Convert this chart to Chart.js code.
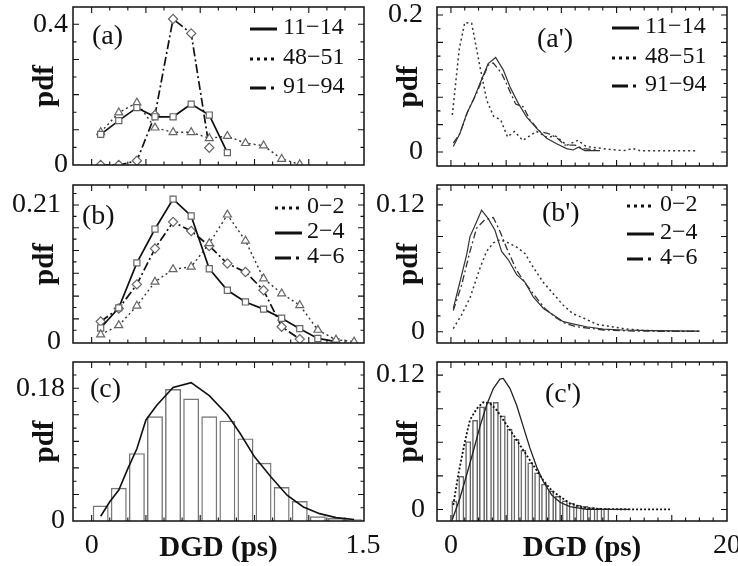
<!DOCTYPE html>
<html>
<head>
<meta charset="utf-8">
<script src="https://cdn.jsdelivr.net/npm/chart.js@4.4.0/dist/chart.umd.min.js"></script>
<style>
  body { margin: 0; background: #fff; }
  #wrap { position: relative; width: 738px; height: 566px; }
  #wrap canvas { position: absolute; left: 0; top: 0; }
</style>
</head>
<body>
<div id="wrap">
  <canvas id="pa" width="738" height="566"></canvas>
  <canvas id="pap" width="738" height="566"></canvas>
  <canvas id="pb" width="738" height="566"></canvas>
  <canvas id="pbp" width="738" height="566"></canvas>
  <canvas id="pc" width="738" height="566"></canvas>
  <canvas id="pcp" width="738" height="566"></canvas>
</div>
<script>
const SERIF = '"Liberation Serif", "Times New Roman", serif';
const INK = '#111';

// ---- data ----
const legendA = ['11−14', '48−51', '91−94'];
const legendB = ['0−2', '2−4', '4−6'];

// (a) binned, centres every 0.1 ps
const binsA = [0.05, 0.15, 0.25, 0.35, 0.45, 0.55, 0.65, 0.75, 0.85, 0.95, 1.05, 1.15, 1.25, 1.35, 1.45];
const a1114 = [0.087, 0.126, 0.163, 0.137, 0.137, 0.173, 0.142, 0.035];
const a4851 = [0.093, 0.149, 0.177, 0.106, 0.093, 0.093, 0.076, 0.082, 0.062, 0.055, 0.017, 0.002];
const a9194 = [0, 0, 0.012, 0.142, 0.415, 0.374, 0.049];

// (a')
const ap1114X = [0.17, 0.65, 1.14, 1.62, 2.1, 2.7, 3.24, 3.79, 4.28, 4.88, 5.49, 6.2, 6.93, 7.66, 8.38, 8.86, 9.23, 9.7, 10.8];
const ap1114Y = [0.008, 0.027, 0.056, 0.076, 0.1, 0.129, 0.138, 0.12, 0.095, 0.071, 0.051, 0.035, 0.02, 0.012, 0.005, 0.003, 0.007, 0.002, 0.002];
const ap4851X = [0.1, 0.6, 1.0, 1.5, 2.1, 2.6, 3.1, 3.6, 4.1, 4.6, 5.2, 6.2, 6.9, 7.6, 8.4, 9.2, 9.8, 11.0, 12.5, 13.2, 13.7, 15.5, 17.8];
const ap4851Y = [0.054, 0.15, 0.189, 0.188, 0.125, 0.075, 0.052, 0.047, 0.022, 0.03, 0.017, 0.03, 0.022, 0.023, 0.01, 0.017, 0.008, 0.005, 0.002, 0.005, 0.002, 0.002, 0.002];
const ap9194X = [0.17, 0.65, 1.25, 1.86, 2.7, 3.07, 3.67, 4.15, 4.69, 5.24, 5.72, 6.45, 7.05, 7.66, 8.26, 8.99, 9.6, 10.5];
const ap9194Y = [0.013, 0.027, 0.061, 0.086, 0.127, 0.13, 0.115, 0.094, 0.07, 0.066, 0.047, 0.03, 0.027, 0.021, 0.01, 0.01, 0.005, 0.003];

// (b) binned
const b02 = [0.011, 0.025, 0.055, 0.092, 0.111, 0.115, 0.151, 0.195, 0.155, 0.097, 0.074, 0.056, 0.018, 0.003, 0];
const b24 = [0.021, 0.052, 0.121, 0.173, 0.219, 0.193, 0.112, 0.079, 0.061, 0.05, 0.036, 0.02, 0.005, 0];
const b46 = [0.031, 0.051, 0.088, 0.143, 0.184, 0.17, 0.147, 0.12, 0.107, 0.079, 0.023, 0.004];

// (b')
const bp02X = [0.17, 0.77, 1.38, 2.1, 2.58, 3.07, 3.55, 4.16, 4.76, 5.36, 5.96, 6.67, 7.4, 8.14, 8.84, 9.59, 10.56, 11.5, 12.7, 14.0, 16.0, 18.0];
const bp02Y = [0.003, 0.016, 0.032, 0.06, 0.076, 0.084, 0.087, 0.084, 0.08, 0.074, 0.061, 0.047, 0.036, 0.025, 0.017, 0.013, 0.007, 0.005, 0.0025, 0.0012, 0.0006, 0.0003];
const bp24X = [0.17, 0.65, 1.14, 1.38, 1.86, 2.22, 2.7, 3.19, 3.67, 4.16, 4.76, 5.36, 5.96, 6.7, 7.4, 8.14, 8.99, 9.83, 11.04, 12.5, 14.5, 18.0];
const bp24Y = [0.022, 0.047, 0.073, 0.09, 0.104, 0.115, 0.107, 0.096, 0.076, 0.068, 0.054, 0.047, 0.033, 0.022, 0.016, 0.0095, 0.007, 0.0047, 0.0025, 0.0016, 0.001, 0.0005];
const bp46X = [0.17, 0.77, 1.38, 1.86, 2.46, 3.07, 3.55, 4.04, 4.76, 5.49, 6.2, 6.8, 7.54, 8.26, 9.1, 11.1, 13.5, 18.0];
const bp46Y = [0.02, 0.044, 0.076, 0.098, 0.106, 0.108, 0.095, 0.079, 0.058, 0.044, 0.032, 0.022, 0.014, 0.008, 0.0047, 0.0016, 0.0005, 0.0003];

// (c) histogram and fit
const cHist = [0.021, 0.045, 0.092, 0.142, 0.179, 0.166, 0.142, 0.136, 0.112, 0.079, 0.046, 0.027, 0.0064, 0.004, 0.0023];
const cFitX = [0.05, 0.1, 0.15, 0.2, 0.25, 0.3, 0.36, 0.45, 0.55, 0.65, 0.75, 0.82, 0.9, 0.99, 1.08, 1.17, 1.26, 1.35, 1.45];
const cFitY = [0.0064, 0.026, 0.042, 0.071, 0.098, 0.137, 0.157, 0.181, 0.1875, 0.17, 0.144, 0.119, 0.087, 0.06, 0.035, 0.019, 0.01, 0.0046, 0.002];

// (c') histogram, bins of 0.5 ps
const cpBins = [0.25, 0.75, 1.25, 1.75, 2.25, 2.75, 3.25, 3.75, 4.25, 4.75, 5.25, 5.75, 6.25, 6.75, 7.25, 7.75, 8.25, 8.75, 9.25, 9.75, 10.25, 10.75, 11.25];
const cpHist = [0.0078, 0.03, 0.061, 0.08, 0.092, 0.096, 0.096, 0.084, 0.072, 0.063, 0.053, 0.042, 0.033, 0.023, 0.017, 0.012, 0.008, 0.006, 0.004, 0.003, 0.002, 0.0015, 0.001];
const cpDotX = [0.17, 0.53, 1.01, 1.38, 1.86, 2.34, 2.83, 3.31, 3.79, 4.28, 4.76, 5.24, 5.72, 6.21, 6.69, 7.29, 7.9, 8.62, 9.59, 11.0, 13.5, 15.9];
const cpDotY = [0.004, 0.031, 0.0605, 0.08, 0.09, 0.0957, 0.0948, 0.0888, 0.08, 0.071, 0.062, 0.053, 0.044, 0.035, 0.026, 0.017, 0.0115, 0.0055, 0.0016, 0.0003, 0.0001, 0];
const cpSolX = [0.1, 0.65, 1.14, 1.62, 2.1, 2.58, 3.07, 3.55, 3.79, 4.28, 4.76, 5.24, 5.72, 6.21, 6.69, 7.29, 7.9, 8.62, 9.83, 13.0];
const cpSolY = [-0.009, 0.01, 0.031, 0.052, 0.074, 0.093, 0.108, 0.1165, 0.117, 0.108, 0.093, 0.074, 0.055, 0.038, 0.025, 0.013, 0.0064, 0.0025, 0, 0];

const pts = (xs, ys) => ys.map((y, i) => ({ x: xs[i], y }));

// ---- styles ----
const DOT = [2, 3], DASHDOT = [9, 3, 2, 3];
const mark = (style, r) => ({ pointStyle: style, pointRadius: r, pointBorderColor: '#666', pointBackgroundColor: '#fff', pointBorderWidth: 1.2 });
const thin = (dash, w, c) => ({ borderColor: c || '#333', borderWidth: w || 1.2, borderDash: dash, pointRadius: 0 });
const histStyle = { type: 'bar', backgroundColor: 'rgba(255,255,255,0)', borderColor: '#777', borderWidth: 1.4, categoryPercentage: 1, order: 5 };

const LEG_SOLID = [], LEG_DOT = [3, 4], LEG_DASHDOT = [16, 5, 3, 5];

// frame, inward ticks, panel letter and legend
const framePlugin = {
  id: 'frame',
  afterDatasetsDraw(chart, args, o) {
    const { ctx, chartArea: a, scales: { x, y } } = chart;
    ctx.save();
    ctx.strokeStyle = INK;
    ctx.lineWidth = 1.5;
    ctx.strokeRect(a.left, a.top, a.right - a.left, a.bottom - a.top);
    ctx.lineWidth = 1.1;
    const each = (scale, step, major, fn) => {
      for (let k = Math.ceil(scale.min / step); k * step <= scale.max; k++) {
        const v = k * step;
        if (v <= scale.min + step * 0.2 || v >= scale.max - step * 0.2) continue;
        const big = Math.abs(v / major - Math.round(v / major)) < 1e-6;
        fn(scale.getPixelForValue(v), big ? 6 : 3.5);
      }
    };
    ctx.beginPath();
    each(x, o.xStep[0], o.xStep[1], (p, len) => {
      ctx.moveTo(p, a.bottom); ctx.lineTo(p, a.bottom - len);
      ctx.moveTo(p, a.top); ctx.lineTo(p, a.top + len);
    });
    each(y, o.yStep[0], o.yStep[1], (p, len) => {
      ctx.moveTo(a.left, p); ctx.lineTo(a.left + len, p);
      ctx.moveTo(a.right, p); ctx.lineTo(a.right - len, p);
    });
    ctx.stroke();

    ctx.fillStyle = INK;
    ctx.textBaseline = 'middle';
    ctx.font = '28px ' + SERIF;
    ctx.fillText(o.label.text, a.left + o.label.x, a.top + o.label.y);

    if (o.legend) {
      const L = o.legend;
      ctx.font = '24px ' + SERIF;
      L.items.forEach((it, i) => {
        const yy = a.top + L.ly[i];
        ctx.beginPath();
        ctx.setLineDash(it.dash);
        ctx.lineWidth = 3;
        ctx.lineCap = 'butt';
        ctx.moveTo(a.left + L.lx, yy + 1);
        ctx.lineTo(a.left + L.lx + 27, yy + 1);
        ctx.stroke();
        ctx.setLineDash([]);
        ctx.fillText(it.text, a.left + L.tx, yy);
      });
    }
    ctx.restore();
  }
};

const W = 738, H = 566, YW = 73, XH = 45;

function panel(id, p) {
  const tickFont = { family: SERIF, size: 28 };
  const titleFont = { family: SERIF, size: 29, weight: 'bold' };
  return new Chart(document.getElementById(id), {
    type: 'scatter',
    data: { datasets: p.datasets },
    plugins: [framePlugin],
    options: {
      responsive: false,
      animation: false,
      layout: {
        padding: {
          left: p.box.l - YW, top: p.box.t, right: W - p.box.r,
          bottom: p.bottom ? H - p.box.b - XH : H - p.box.b
        }
      },
      elements: { line: { tension: 0 } },
      plugins: {
        legend: { display: false },
        tooltip: { enabled: false },
        frame: { xStep: p.xStep, yStep: p.yStep, label: p.label, legend: p.legend }
      },
      scales: {
        x: {
          type: 'linear', min: p.x[0], max: p.x[1], display: !!p.bottom, offset: false,
          grid: { display: false, drawTicks: false, offset: false }, border: { display: false },
          afterBuildTicks: s => { s.ticks = (p.xLabels || []).map(v => ({ value: v })); },
          afterFit: s => { if (p.bottom) s.height = XH; s.paddingLeft = 0; s.paddingRight = 0; },
          ticks: { font: tickFont, color: INK, padding: 8, maxRotation: 0, autoSkip: false, callback: v => String(v) },
          title: { display: true, text: 'DGD (ps)', font: titleFont, color: INK, padding: { top: 0, bottom: 0 } }
        },
        y: {
          type: 'linear', min: p.y[0], max: p.y[1], beginAtZero: false,
          grid: { display: false, drawTicks: false }, border: { display: false },
          afterBuildTicks: s => { s.ticks = p.yLabels.map(v => ({ value: v })); },
          afterFit: s => { s.width = YW; s.paddingTop = 0; s.paddingBottom = 0; },
          ticks: { font: tickFont, color: INK, padding: p.yPad, autoSkip: false, callback: v => String(v) },
          title: { display: true, text: 'pdf', font: titleFont, color: INK, padding: { top: 28.6, bottom: 0 } }
        }
      }
    }
  });
}

const LEFT = { l: 73, r: 364 }, RIGHT = { l: 437, r: 727 };
const XL = [-0.103, 1.505], XR = [-1.01, 20];

panel('pa', {
  box: { ...LEFT, t: 7, b: 165 }, x: XL, y: [0, 0.449], yLabels: [0, 0.4], yPad: 5,
  xStep: [0.1, 0.3], yStep: [0.05, 0.1],
  label: { text: '(a)', x: 19, y: 30 },
  legend: { lx: 177, tx: 210, ly: [21, 51, 80], items: [
    { text: legendA[0], dash: LEG_SOLID }, { text: legendA[1], dash: LEG_DOT }, { text: legendA[2], dash: LEG_DASHDOT }] },
  datasets: [
    { data: pts(binsA, a1114), showLine: true, borderColor: INK, borderWidth: 1.7, ...mark('rect', 4.3) },
    { data: pts(binsA, a4851), showLine: true, borderColor: '#333', borderWidth: 1.4, borderDash: DOT, ...mark('triangle', 4.6) },
    { data: pts(binsA, a9194), showLine: true, borderColor: INK, borderWidth: 1.7, borderDash: DASHDOT, ...mark('rectRot', 4.6) }
  ]
});

panel('pap', {
  box: { ...RIGHT, t: 7, b: 166 }, x: XR, y: [-0.0204, 0.2117], yLabels: [0, 0.2], yPad: 14,
  xStep: [1, 4], yStep: [0.02, 0.04],
  label: { text: "(a')", x: 100, y: 33 },
  legend: { lx: 175, tx: 208, ly: [20, 50, 78], items: [
    { text: legendA[0], dash: LEG_SOLID }, { text: legendA[1], dash: LEG_DOT }, { text: legendA[2], dash: LEG_DASHDOT }] },
  datasets: [
    { data: pts(ap1114X, ap1114Y), showLine: true, ...thin([], 1.2) },
    { data: pts(ap4851X, ap4851Y), showLine: true, ...thin(DOT, 1.5) },
    { data: pts(ap9194X, ap9194Y), showLine: true, ...thin([7, 3, 2, 3], 1.3) }
  ]
});

panel('pb', {
  box: { ...LEFT, t: 185, b: 343 }, x: XL, y: [-0.002, 0.2406], yLabels: [0, 0.21], yPad: 12,
  xStep: [0.1, 0.3], yStep: [0.0175, 0.035],
  label: { text: '(b)', x: 9, y: 32 },
  legend: { lx: 202, tx: 234, ly: [22, 47, 72], items: [
    { text: legendB[0], dash: LEG_DOT }, { text: legendB[1], dash: LEG_SOLID }, { text: legendB[2], dash: LEG_DASHDOT }] },
  datasets: [
    { data: pts(binsA, b02), showLine: true, borderColor: '#333', borderWidth: 1.4, borderDash: DOT, ...mark('triangle', 4.6) },
    { data: pts(binsA, b24), showLine: true, borderColor: INK, borderWidth: 1.7, ...mark('rect', 4.3) },
    { data: pts(binsA, b46), showLine: true, borderColor: INK, borderWidth: 1.7, borderDash: DASHDOT, ...mark('rectRot', 4.6) }
  ]
});

panel('pbp', {
  box: { ...RIGHT, t: 185, b: 343 }, x: XR, y: [-0.0107, 0.1388], yLabels: [0, 0.12], yPad: 12,
  xStep: [1, 4], yStep: [0.015, 0.03],
  label: { text: "(b')", x: 105, y: 29 },
  legend: { lx: 190, tx: 223, ly: [20, 48, 73], items: [
    { text: legendB[0], dash: LEG_DOT }, { text: legendB[1], dash: LEG_SOLID }, { text: legendB[2], dash: LEG_DASHDOT }] },
  datasets: [
    { data: pts(bp02X, bp02Y), showLine: true, ...thin(DOT, 1.5) },
    { data: pts(bp24X, bp24Y), showLine: true, ...thin([], 1.2) },
    { data: pts(bp46X, bp46Y), showLine: true, ...thin([7, 3, 2, 3], 1.3) }
  ]
});

panel('pc', {
  box: { ...LEFT, t: 362, b: 521 }, x: XL, y: [0, 0.2156], yLabels: [0, 0.18], yPad: 8,
  xStep: [0.1, 0.3], yStep: [0.018, 0.036], bottom: true, xLabels: [0, 1.5],
  label: { text: '(c)', x: 17, y: 28 },
  datasets: [
    { data: pts(cFitX, cFitY), showLine: true, borderColor: INK, borderWidth: 1.6, pointRadius: 0, order: 1 },
    { ...histStyle, data: pts(binsA, cHist), barPercentage: 0.88 }
  ]
});

panel('pcp', {
  box: { ...RIGHT, t: 362, b: 521 }, x: XR, y: [-0.0103, 0.1317], yLabels: [0, 0.12], yPad: 12,
  xStep: [1, 4], yStep: [0.015, 0.03], bottom: true, xLabels: [0, 20],
  label: { text: "(c')", x: 108, y: 33 },
  datasets: [
    { data: pts(cpSolX, cpSolY), showLine: true, ...thin([], 1.3, '#222'), order: 1 },
    { data: pts(cpDotX, cpDotY), showLine: true, ...thin([2, 2], 1.8, '#111'), order: 1 },
    { ...histStyle, data: pts(cpBins, cpHist), barPercentage: 0.86, borderWidth: 1.5, borderColor: '#666', base: -0.0103 }
  ]
});
</script>
</body>
</html>
